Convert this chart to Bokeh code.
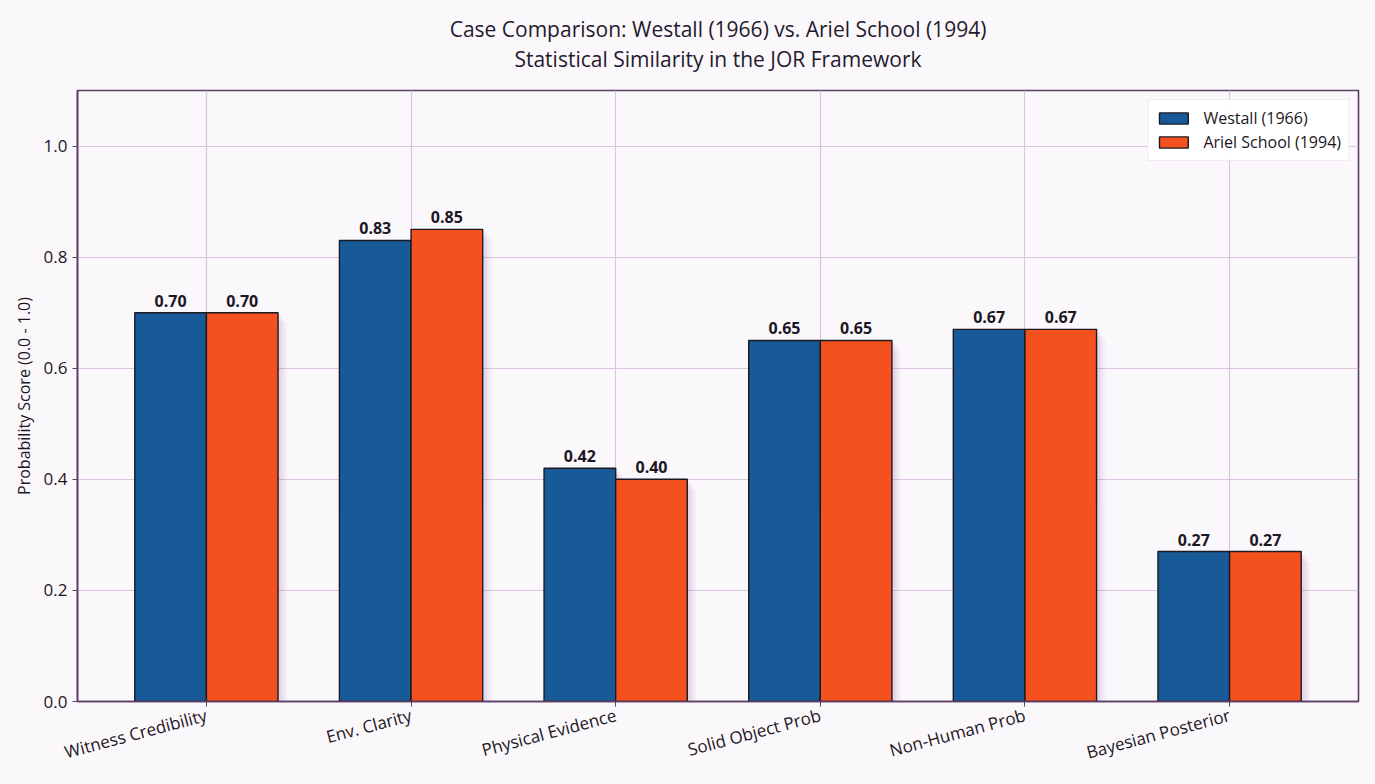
from bokeh.plotting import figure
from bokeh.models import (Range1d, FixedTicker, ColumnDataSource, Legend,
                          LegendItem, LabelSet, Title)
from bokeh.core.properties import value
from bokeh.embed import file_html
from bokeh.resources import INLINE

# Scores per metric for the two cases
categories = ["Witness Credibility", "Env. Clarity", "Physical Evidence",
              "Solid Object Prob", "Non-Human Prob", "Bayesian Posterior"]
westall = [0.70, 0.83, 0.42, 0.65, 0.67, 0.27]
ariel = [0.70, 0.85, 0.40, 0.65, 0.67, 0.27]
y_ticks = [0.0, 0.2, 0.4, 0.6, 0.8, 1.0]
series_names = ["Westall (1966)", "Ariel School (1994)"]
title_lines = ["Case Comparison: Westall (1966) vs. Ariel School (1994)",
               "Statistical Similarity in the JOR Framework"]

BLUE = "#185a97"
ORANGE = "#f4511e"
FRAME = "#5b3d63"
GRID = "#dcc3e0"
BG = "#fbf8fc"
TEXT = "#1c1722"
FONT = "Open Sans"

FRAME_W, FRAME_H = 1281, 611

bar_w = 0.35
xs = list(range(len(categories)))
x_w = [i - bar_w / 2 for i in xs]
x_a = [i + bar_w / 2 for i in xs]

src_w = ColumnDataSource(dict(x=x_w, top=westall,
                              label=[f"{v:.2f}" for v in westall]))
src_a = ColumnDataSource(dict(x=x_a, top=ariel,
                              label=[f"{v:.2f}" for v in ariel]))

p = figure(frame_width=FRAME_W, frame_height=FRAME_H,
           output_backend="svg", toolbar_location=None,
           x_range=Range1d(-0.63, len(categories) - 1 + 0.63),
           y_range=Range1d(0, 1.1),
           min_border_left=77, min_border_right=17,
           min_border_top=90, min_border_bottom=83)

p.background_fill_color = BG
p.border_fill_color = BG
p.outline_line_color = FRAME
p.outline_line_width = 1.6

# two-line centred title: first line outermost, second nearer the frame,
# with a blank spacer line between the title block and the frame
p.title.text = title_lines[0]
spacer = Title(text=" ", text_font_size="14px", standoff=0)
sub = Title(text=title_lines[1])
for t in (p.title, sub):
    t.align = "center"
    t.text_font = FONT
    t.text_font_size = "21px"
    t.text_font_style = "normal"
    t.text_color = "#241a2c"
    t.offset = 0
    t.standoff = 0
p.add_layout(spacer, "above")
p.add_layout(sub, "above")

# soft purple drop shadow behind the bars
sh_x = x_w + x_a
sh_t = westall + ariel
for dx, dy, a in [(0.045, 0.018, 0.05), (0.032, 0.012, 0.07), (0.018, 0.006, 0.09)]:
    p.vbar(x=[v + dx for v in sh_x], top=[t - dy for t in sh_t], bottom=-0.05,
           width=bar_w, fill_color="#8a4fa0", fill_alpha=a, line_color=None)

r_w = p.vbar(x="x", top="top", width=bar_w, source=src_w, fill_color=BLUE,
             line_color="#1a1a22", line_width=1.4)
r_a = p.vbar(x="x", top="top", width=bar_w, source=src_a, fill_color=ORANGE,
             line_color="#1a1a22", line_width=1.4)

for src in (src_w, src_a):
    p.add_layout(LabelSet(x="x", y="top", text="label", source=src,
                          text_align="center", text_baseline="bottom",
                          y_offset=6, text_font=value(FONT),
                          text_font_size=value("16px"),
                          text_font_style="bold", text_color=TEXT))

# axes
p.xaxis.ticker = FixedTicker(ticks=xs)
p.xaxis.major_label_overrides = {i: c for i, c in zip(xs, categories)}
p.xaxis.major_label_orientation = 0.26
p.yaxis.ticker = FixedTicker(ticks=y_ticks)
p.yaxis.major_label_overrides = {t: f"{t:.1f}" for t in y_ticks}
p.yaxis.axis_label = "Probability Score (0.0 - 1.0)"
p.yaxis.axis_label_text_font = FONT
p.yaxis.axis_label_text_font_size = "16px"
p.yaxis.axis_label_text_font_style = "normal"
p.yaxis.axis_label_text_color = TEXT
p.yaxis.axis_label_standoff = 6
for ax in (p.xaxis, p.yaxis):
    ax.axis_line_color = FRAME
    ax.axis_line_width = 1.6
    ax.major_tick_line_color = FRAME
    ax.major_tick_in = 0
    ax.major_tick_out = 5
    ax.minor_tick_line_color = None
    ax.major_label_text_font = FONT
    ax.major_label_text_font_size = "17px"
    ax.major_label_text_color = TEXT
p.xaxis.major_label_standoff = 8

p.xgrid.grid_line_color = GRID
p.ygrid.grid_line_color = GRID
p.xgrid.grid_line_width = 1.2
p.ygrid.grid_line_width = 1.2

legend = Legend(items=[LegendItem(label=series_names[0], renderers=[r_w]),
                       LegendItem(label=series_names[1], renderers=[r_a])],
                location="top_right", orientation="vertical")
legend.label_text_font = FONT
legend.label_text_font_size = "16px"
legend.label_text_color = TEXT
legend.glyph_width = 36
legend.glyph_height = 14
legend.spacing = 2
legend.padding = 7
legend.margin = 9
legend.label_standoff = 12
legend.border_line_color = "#e2d4e6"
legend.border_line_width = 1.2
legend.background_fill_color = "#ffffff"
legend.background_fill_alpha = 0.95
p.add_layout(legend)

open("out.html", "w").write(file_html(p, INLINE))
